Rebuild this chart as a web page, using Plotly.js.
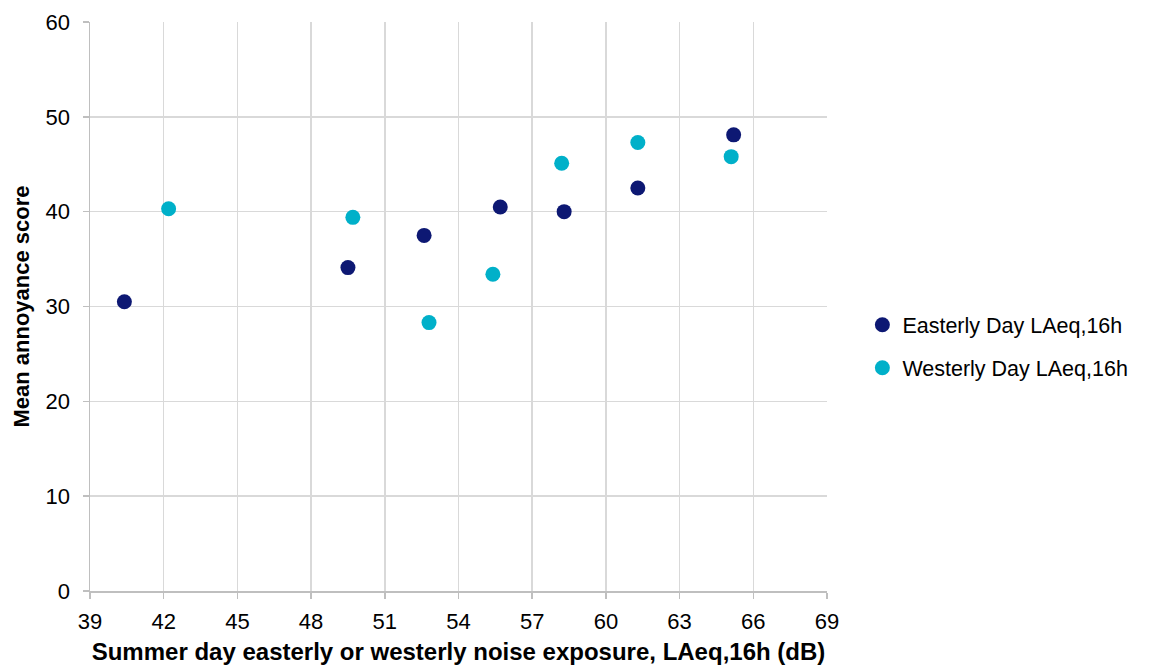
<!DOCTYPE html>
<html>
<head>
<meta charset="utf-8">
<script src="https://cdn.plot.ly/plotly-3.0.1.min.js"></script>
<style>html,body{margin:0;padding:0;background:#fff;}#chart{width:1158px;height:666px;}</style>
</head>
<body>
<div id="chart"></div>
<script>
var easterlyX = [40.4, 49.5, 52.6, 55.7, 58.3, 61.3, 65.2];
var easterlyY = [30.5, 34.1, 37.5, 40.5, 40.0, 42.5, 48.1];
var westerlyX = [42.2, 49.7, 52.8, 55.4, 58.2, 61.3, 65.1];
var westerlyY = [40.3, 39.4, 28.3, 33.4, 45.1, 47.3, 45.8];
var seriesNames = ["Easterly Day LAeq,16h", "Westerly Day LAeq,16h"];
var xTicks = [39, 42, 45, 48, 51, 54, 57, 60, 63, 66, 69];
var yTicks = [0, 10, 20, 30, 40, 50, 60];

var traces = [
  {x: easterlyX, y: easterlyY, name: seriesNames[0], type: 'scatter', mode: 'markers',
   legendgroup: 'e', marker: {color: '#0d1873', size: 15}},
  {x: westerlyX, y: westerlyY, name: seriesNames[1], type: 'scatter', mode: 'markers',
   legendgroup: 'w', marker: {color: '#00b0c9', size: 15}}
];
var fam = 'Liberation Sans';
var layout = {
  width: 1158, height: 666,
  margin: {l: 90, r: 331, t: 22, b: 75},
  paper_bgcolor: '#fff', plot_bgcolor: '#fff',
  font: {family: fam, color: '#000', size: 22},
  showlegend: true,
  legend: {x: 1.048, y: 0.43, yanchor: 'middle', xanchor: 'left',
           font: {family: fam, size: 21.5, color: '#000'},
           traceorder: 'grouped', tracegroupgap: 12, itemwidth: 30},
  xaxis: {
    range: [39, 69], tickvals: xTicks, ticktext: xTicks.map(String),
    showgrid: true, gridcolor: '#d9d9d9', gridwidth: 1.5,
    showline: true, linecolor: '#bfbfbf', linewidth: 1.5,
    ticks: 'outside', ticklen: 6, tickcolor: '#bfbfbf', tickwidth: 1.5,
    ticklabelstandoff: 4,
    zeroline: false,
    tickfont: {family: fam, size: 22, color: '#000'},
    title: {text: 'Summer day easterly or westerly noise exposure, LAeq,16h (dB)',
            font: {family: fam, size: 24, color: '#000', weight: 'bold'}, standoff: 10}
  },
  yaxis: {
    range: [0, 60], tickvals: yTicks, ticktext: yTicks.map(String),
    showgrid: true, gridcolor: '#d9d9d9', gridwidth: 1.5,
    showline: true, linecolor: '#bfbfbf', linewidth: 1.5,
    ticks: 'outside', ticklen: 6, tickcolor: '#bfbfbf', tickwidth: 1.5,
    ticklabelstandoff: 8,
    zeroline: false,
    tickfont: {family: fam, size: 22, color: '#000'},
    title: {text: 'Mean annoyance score',
            font: {family: fam, size: 22, color: '#000', weight: 'bold'}, standoff: 10}
  }
};
Plotly.newPlot('chart', traces, layout, {displayModeBar: false, staticPlot: true});
</script>
</body>
</html>
